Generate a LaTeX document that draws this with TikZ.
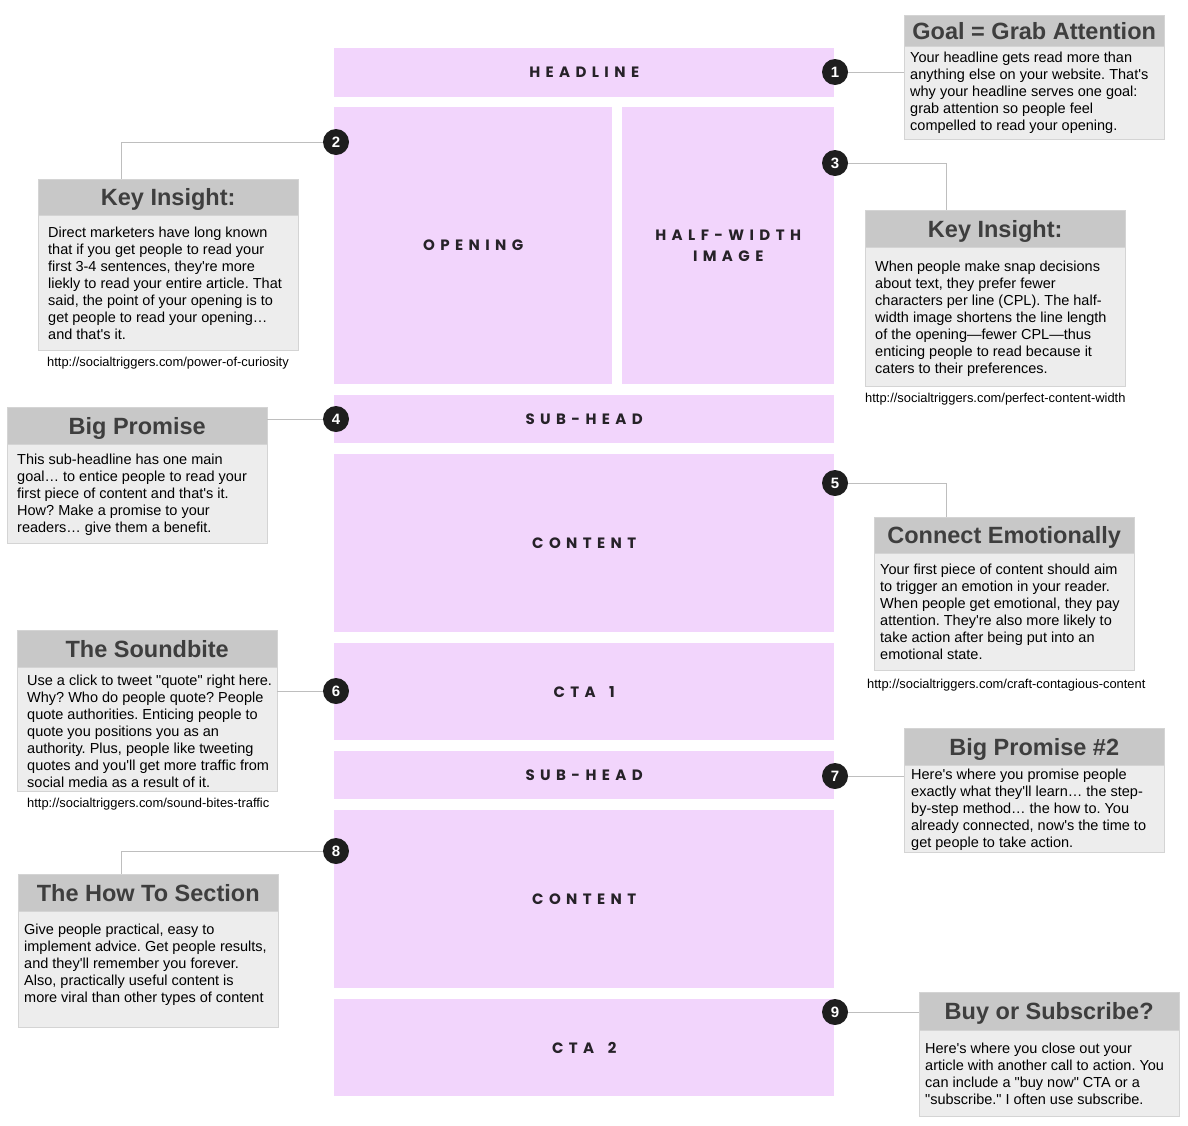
\documentclass[tikz,border=0pt]{standalone}
\usepackage{fontspec}
\setmainfont{Liberation Sans}[Ligatures=TeXOff]
\newfontfamily\labelfont{Poppins}[LetterSpace=36]
\usepackage{xcolor}
\usepackage{tikz}
\usetikzlibrary{positioning}
\frenchspacing
\definecolor{blockPink}{RGB}{242,213,252}
\definecolor{labelInk}{RGB}{38,34,40}
\definecolor{badgeInk}{RGB}{30,30,30}
\definecolor{headGray}{RGB}{200,200,200}
\definecolor{bodyGray}{RGB}{237,237,237}
\definecolor{edgeGray}{RGB}{212,212,212}
\definecolor{headInk}{RGB}{62,62,62}
\definecolor{leaderGray}{RGB}{190,190,190}
\tikzset{
    block/.style={
        fill=blockPink, inner sep=0pt, anchor=north west, align=center,
        text=labelInk, font=\labelfont\bfseries\fontsize{15}{21}\selectfont
    },
    badge/.style={
        circle, fill=badgeInk, text=white, minimum size=26pt, inner sep=0pt,
        font=\bfseries\fontsize{15}{15}\selectfont
    },
    headbox/.style={
        draw=edgeGray, fill=headGray, minimum width=260pt, inner sep=0pt,
        anchor=north west, text=headInk, text height=17pt, text depth=0pt,
        font=\bfseries\fontsize{23.5}{26}\selectfont
    },
    bodybox/.style={
        draw=edgeGray, fill=bodyGray, minimum width=260pt, inner sep=0pt
    },
    bodytext/.style={
        anchor=north west, inner sep=0pt, align=left, font=\fontsize{14.5}{17}\selectfont
    },
    urltext/.style={
        anchor=west, inner sep=0pt, font=\fontsize{12.9}{14}\selectfont
    },
    leader/.style={
        draw=leaderGray, line width=0.8pt
    }
}
\begin{document}
\begin{tikzpicture}[x=1pt, y=-1pt]
    \useasboundingbox (0,0) rectangle (1188,1125);

    % --- page column ---
    \node[block, minimum width=500pt, minimum height=49pt] (headline) at (334,48) {HEADLINE};
    \node[block, minimum width=278pt, minimum height=277pt] (opening) at (334,107) {OPENING};
    \node[block, minimum width=212pt, minimum height=277pt] (halfImage) at (622,107) {HALF-WIDTH\\IMAGE};
    \node[block, minimum width=500pt, minimum height=48pt] (subHeadA) at (334,395) {SUB-HEAD};
    \node[block, minimum width=500pt, minimum height=178pt] (contentA) at (334,454) {CONTENT};
    \node[block, minimum width=500pt, minimum height=97pt] (ctaA) at (334,643) {CTA\hspace{5pt} 1};
    \node[block, minimum width=500pt, minimum height=48pt] (subHeadB) at (334,751) {SUB-HEAD};
    \node[block, minimum width=500pt, minimum height=178pt] (contentB) at (334,810) {CONTENT};
    \node[block, minimum width=500pt, minimum height=97pt] (ctaB) at (334,999) {CTA\hspace{5pt} 2};

    % --- numbered badges ---
    \node[badge] (b1) at (835,72) {1};
    \node[badge] (b2) at (336,142) {2};
    \node[badge] (b3) at (835,163) {3};
    \node[badge] (b4) at (336,419) {4};
    \node[badge] (b5) at (835,483) {5};
    \node[badge] (b6) at (336,691) {6};
    \node[badge] (b7) at (835,776) {7};
    \node[badge] (b8) at (336,851) {8};
    \node[badge] (b9) at (835,1012) {9};

    % 1: headline
    \node[headbox, minimum height=31pt] (goalHead) at (904,15) {Goal = Grab Attention};
    \node[bodybox, below=0pt of goalHead, minimum height=93pt] (goalBody) {};
    \node[bodytext] (goalText) at (910,52) {Your headline gets read more than\\anything else on your website. That's\\why your headline serves one goal:\\grab attention so people feel\\compelled to read your opening.};
    \draw[leader] (b1.east) -- (b1.east -| goalBody.west);

    % 2: opening
    \node[headbox, minimum height=36pt] (insightLHead) at (38,179) {Key Insight:};
    \node[bodybox, below=0pt of insightLHead, minimum height=135pt] (insightLBody) {};
    \node[bodytext] (insightLText) at (48,227) {Direct marketers have long known\\that if you get people to read your\\first 3-4 sentences, they're more\\liekly to read your entire article. That\\said, the point of your opening is to\\get people to read your opening…\\and that's it.};
    \node[urltext] (insightLUrl) at (47,363) {http://socialtriggers.com/power-of-curiosity};
    \coordinate (kink2) at (121,142);
    \draw[leader] (b2.west) -- (kink2) -- (kink2 |- insightLHead.north);

    % 3: half-width image
    \node[headbox, minimum height=37pt] (insightRHead) at (865,210) {Key Insight:};
    \node[bodybox, below=0pt of insightRHead, minimum height=139pt] (insightRBody) {};
    \node[bodytext] (insightRText) at (875,261) {When people make snap decisions\\about text, they prefer fewer\\characters per line (CPL). The half-\\width image shortens the line length\\of the opening—fewer CPL—thus\\enticing people to read because it\\caters to their preferences.};
    \node[urltext] (insightRUrl) at (865,399) {http://socialtriggers.com/perfect-content-width};
    \coordinate (kink3) at (946,163);
    \draw[leader] (b3.east) -- (kink3) -- (kink3 |- insightRHead.north);

    % 4: sub-head
    \node[headbox, minimum height=37pt] (promiseHead) at (7,407) {Big Promise};
    \node[bodybox, below=0pt of promiseHead, minimum height=99pt] (promiseBody) {};
    \node[bodytext] (promiseText) at (17,454) {This sub-headline has one main\\goal… to entice people to read your\\first piece of content and that's it.\\How? Make a promise to your\\readers… give them a benefit.};
    \draw[leader] (b4.west) -- (b4.west -| promiseHead.east);

    % 5: content
    \node[headbox, minimum height=36pt] (emotionHead) at (874,517) {Connect Emotionally};
    \node[bodybox, below=0pt of emotionHead, minimum height=117pt] (emotionBody) {};
    \node[bodytext] (emotionText) at (880,564) {Your first piece of content should aim\\to trigger an emotion in your reader.\\When people get emotional, they pay\\attention. They're also more likely to\\take action after being put into an\\emotional state.};
    \node[urltext] (emotionUrl) at (867,685) {http://socialtriggers.com/craft-contagious-content};
    \coordinate (kink5) at (946,483);
    \draw[leader] (b5.east) -- (kink5) -- (kink5 |- emotionHead.north);

    % 6: cta 1
    \node[headbox, minimum height=37pt] (soundHead) at (17,630) {The Soundbite};
    \node[bodybox, below=0pt of soundHead, minimum height=124pt] (soundBody) {};
    \node[bodytext] (soundText) at (27,675) {Use a click to tweet "quote" right here.\\Why? Who do people quote? People\\quote authorities. Enticing people to\\quote you positions you as an\\authority. Plus, people like tweeting\\quotes and you'll get more traffic from\\social media as a result of it.};
    \node[urltext] (soundUrl) at (27,804) {http://socialtriggers.com/sound-bites-traffic};
    \draw[leader] (b6.west) -- (b6.west -| soundBody.east);

    % 7: second sub-head
    \node[headbox, minimum height=37pt] (promise2Head) at (904,728) {Big Promise \#2};
    \node[bodybox, below=0pt of promise2Head, minimum height=87pt] (promise2Body) {};
    \node[bodytext] (promise2Text) at (911,769) {Here's where you promise people\\exactly what they'll learn… the step-\\by-step method… the how to. You\\already connected, now's the time to\\get people to take action.};
    \draw[leader] (b7.east) -- (b7.east -| promise2Body.west);

    % 8: second content
    \node[headbox, minimum height=37pt] (howToHead) at (18,874) {The How To Section};
    \node[bodybox, below=0pt of howToHead, minimum height=116pt] (howToBody) {};
    \node[bodytext] (howToText) at (24,924) {Give people practical, easy to\\implement advice. Get people results,\\and they'll remember you forever.\\Also, practically useful content is\\more viral than other types of content};
    \coordinate (kink8) at (121,851);
    \draw[leader] (b8.west) -- (kink8) -- (kink8 |- howToHead.north);

    % 9: cta 2
    \node[headbox, minimum height=38pt] (buyHead) at (919,992) {Buy or Subscribe?};
    \node[bodybox, below=0pt of buyHead, minimum height=86pt] (buyBody) {};
    \node[bodytext] (buyText) at (925,1043) {Here's where you close out your\\article with another call to action. You\\can include a "buy now" CTA or a\\"subscribe." I often use subscribe.};
    \draw[leader] (b9.east) -- (b9.east -| buyHead.west);
\end{tikzpicture}
\end{document}
